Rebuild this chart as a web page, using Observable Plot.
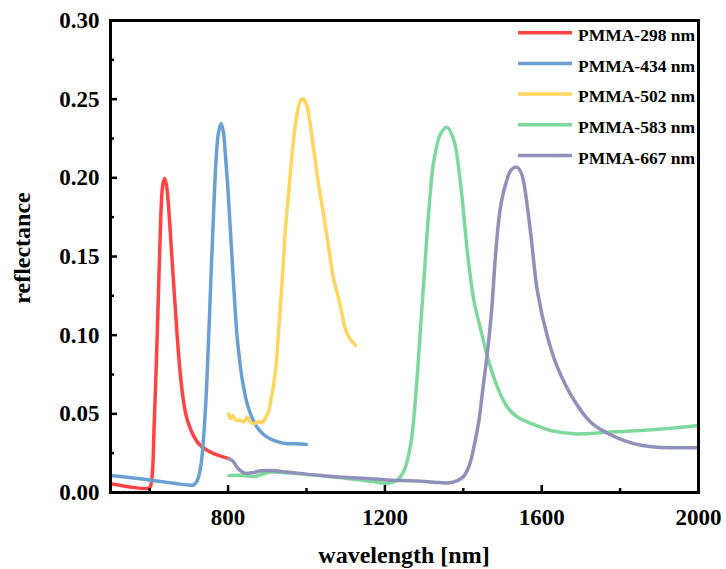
<!DOCTYPE html>
<html><head><meta charset="utf-8">
<script src="https://cdn.jsdelivr.net/npm/d3@7"></script>
<script src="https://cdn.jsdelivr.net/npm/@observablehq/plot@0.6"></script>
<style>body{margin:0;background:#fff}</style>
</head><body><div id="chart"></div>
<script>
const seriesNames = ["PMMA-298 nm", "PMMA-434 nm", "PMMA-502 nm", "PMMA-583 nm", "PMMA-667 nm"];
const seriesColors = ["#ff4343", "#6a9fd3", "#ffd55e", "#7dd89d", "#9090bb"];

const wl298 = [500, 550, 590, 600, 606, 611, 616, 621, 627, 633, 638, 643, 650, 657, 664, 670, 677, 684, 692, 700, 712, 725, 745, 770, 802];
const r298  = [0.0055, 0.0035, 0.0025, 0.003, 0.010, 0.040, 0.075, 0.115, 0.165, 0.195, 0.1995, 0.195, 0.175, 0.148, 0.122, 0.100, 0.078, 0.062, 0.050, 0.043, 0.036, 0.031, 0.027, 0.024, 0.0215];

const wl434 = [500, 600, 700, 712, 722, 731, 742, 749, 756, 763, 769, 775, 782, 788, 793, 799, 805, 811, 817, 823, 830, 836, 849, 862, 874, 890, 908, 930, 951, 975, 1000];
const r434  = [0.0108, 0.008, 0.0047, 0.0048, 0.008, 0.018, 0.052, 0.09, 0.135, 0.178, 0.210, 0.228, 0.2345, 0.229, 0.215, 0.195, 0.170, 0.145, 0.120, 0.099, 0.083, 0.072, 0.056, 0.047, 0.0415, 0.037, 0.034, 0.032, 0.031, 0.031, 0.0305];

const wl502 = [801, 806, 812, 820, 830, 840, 849, 856, 865, 877, 887, 897, 904, 910, 916, 922, 929, 938, 946, 955, 964, 976, 983, 989, 996, 1002, 1010, 1020, 1030, 1040, 1050, 1060, 1068, 1078, 1088, 1097, 1108, 1116, 1125];
const r502  = [0.050, 0.047, 0.049, 0.046, 0.046, 0.045, 0.048, 0.045, 0.0437, 0.045, 0.0447, 0.048, 0.052, 0.060, 0.068, 0.080, 0.103, 0.135, 0.1666, 0.192, 0.2174, 0.2407, 0.248, 0.2503, 0.249, 0.245, 0.233, 0.215, 0.197, 0.182, 0.166, 0.150, 0.137, 0.127, 0.117, 0.106, 0.0987, 0.096, 0.0935];

const wl583 = [802, 830, 866, 908, 950, 1000, 1036, 1100, 1164, 1206, 1232, 1249, 1266, 1279, 1291, 1300, 1312, 1325, 1342, 1358, 1376, 1393, 1411, 1427, 1445, 1462, 1487, 1513, 1538, 1598, 1623, 1683, 1768, 1853, 1938, 2000];
const r583  = [0.0108, 0.011, 0.0102, 0.013, 0.0125, 0.0115, 0.0108, 0.009, 0.0072, 0.0059, 0.008, 0.014, 0.031, 0.0627, 0.105, 0.137, 0.179, 0.211, 0.228, 0.2322, 0.2238, 0.196, 0.1517, 0.122, 0.103, 0.086, 0.067, 0.054, 0.048, 0.0415, 0.0394, 0.0373, 0.0383, 0.0394, 0.041, 0.0426];

const wl667 = [802, 812, 823, 840, 860, 885, 910, 950, 1036, 1121, 1206, 1291, 1340, 1365, 1385, 1400, 1415, 1428, 1440, 1450, 1462, 1472, 1482, 1494, 1508, 1522, 1537, 1548, 1555, 1572, 1589, 1615, 1640, 1683, 1725, 1768, 1811, 1853, 1896, 1950, 2000];
const r667  = [0.0214, 0.0200, 0.0160, 0.0125, 0.0125, 0.0138, 0.014, 0.013, 0.0108, 0.0093, 0.008, 0.0072, 0.0063, 0.0062, 0.0075, 0.0100, 0.017, 0.030, 0.046, 0.066, 0.090, 0.115, 0.150, 0.180, 0.196, 0.205, 0.2068, 0.203, 0.196, 0.1645, 0.128, 0.0987, 0.0797, 0.0585, 0.0447, 0.0377, 0.033, 0.030, 0.0288, 0.0284, 0.0284];

const xMajorTicks = [800, 1200, 1600, 2000];
const xMinorTicks = [600, 1000, 1400, 1800];
const yMajorTicks = [0, 0.05, 0.10, 0.15, 0.20, 0.25, 0.30];
const yMinorTicks = [0.025, 0.075, 0.125, 0.175, 0.225, 0.275];
const xTitle = "wavelength [nm]";
const yTitle = "reflectance";

const allWl = [wl298, wl434, wl502, wl583, wl667];
const allR = [r298, r434, r502, r583, r667];
const rows = [];
seriesNames.forEach((name, i) => {
  allWl[i].forEach((w, j) => rows.push({series: name, wl: w, r: allR[i][j]}));
});

const legendMark = (index, scales, values, dims) => {
  const g = d3.create("svg:g");
  const right = dims.width - dims.marginRight;
  seriesNames.forEach((name, i) => {
    const y = dims.marginTop + 12.7 + i * 30.7;
    g.append("line").attr("x1", right - 180).attr("x2", right - 126)
      .attr("y1", y).attr("y2", y).attr("stroke", seriesColors[i]).attr("stroke-width", 3.5);
    g.append("text").attr("x", right - 120).attr("y", y + 8.3)
      .attr("text-anchor", "start")
      .attr("font-size", 17.5).attr("fill", "#000").text(name);
  });
  return g.node();
};

const titleMark = (index, scales, values, dims) => {
  const g = d3.create("svg:g").attr("font-size", 24).attr("fill", "#000");
  g.append("text").attr("x", (dims.marginLeft + dims.width - dims.marginRight) / 2)
    .attr("y", dims.height - 6).attr("text-anchor", "middle").text(xTitle);
  g.append("text").attr("transform", "translate(30,248) rotate(-90)")
    .attr("text-anchor", "middle").text(yTitle);
  return g.node();
};

const chart = Plot.plot({
  width: 726, height: 569,
  marginLeft: 110, marginRight: 28, marginTop: 20, marginBottom: 77,
  x: {domain: [500, 2000]},
  y: {domain: [0, 0.30]},
  color: {domain: seriesNames, range: seriesColors},
  style: {fontFamily: "'Liberation Serif', 'Times New Roman', serif", fontWeight: "bold", fontSize: "23px", color: "#000", background: "#fff"},
  marks: [
    Plot.line(rows, {x: "wl", y: "r", z: "series", stroke: "series", strokeWidth: 3.5, curve: "catmull-rom"}),
    Plot.axisX({ticks: xMajorTicks, tickSize: 0, tickPadding: 16, tickFormat: d => String(d), label: null}),
    Plot.axisX({ticks: xMajorTicks, tickSize: -7, tickFormat: () => "", label: null, strokeWidth: 2.5}),
    Plot.axisX({ticks: xMinorTicks, tickSize: -4, tickFormat: () => "", label: null, strokeWidth: 2.5}),
    Plot.axisY({ticks: yMajorTicks, tickSize: 0, tickPadding: 11, tickFormat: d => d.toFixed(2), label: null}),
    Plot.axisY({ticks: yMajorTicks, tickSize: -7, tickFormat: () => "", label: null, strokeWidth: 2.5}),
    Plot.axisY({ticks: yMinorTicks, tickSize: -4, tickFormat: () => "", label: null, strokeWidth: 2.5}),
    Plot.frame({strokeWidth: 3}),
    legendMark,
    titleMark
  ]
});
document.getElementById("chart").appendChild(chart);
</script>
</body></html>
